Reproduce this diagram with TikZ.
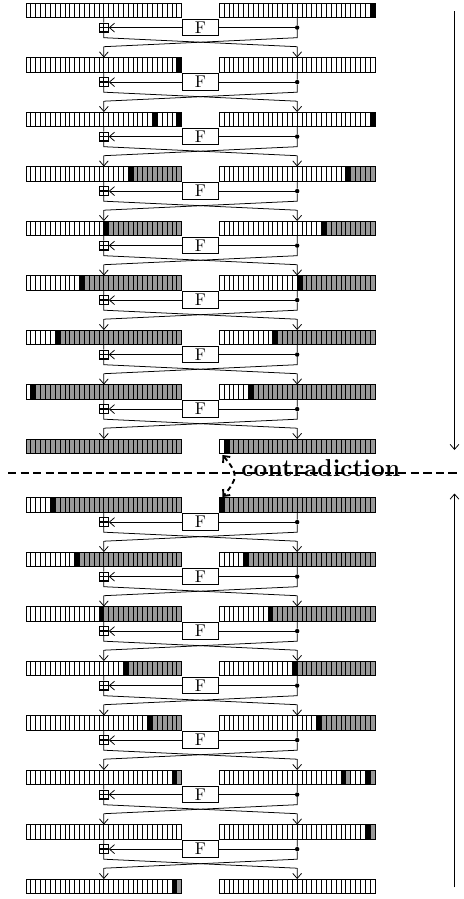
\documentclass[tikz,border=0pt]{standalone}
\usetikzlibrary{arrows.meta}
\definecolor{cg}{gray}{0.6}
\tikzset{
  >={Straight Barb[length=3pt, width=5.2pt]},
  reg/.style={draw, rectangle, line width=0.55pt, minimum width=91.59pt, minimum height=8.65pt, inner sep=0pt, outer sep=0pt},
  cellline/.style={line width=0.5pt},
  bp/.style={draw, rectangle, line width=0.75pt, minimum size=5.1pt, inner sep=0pt,
    path picture={\draw[line width=0.75pt] (path picture bounding box.north) -- (path picture bounding box.south)
      (path picture bounding box.west) -- (path picture bounding box.east);}},
  fbox/.style={draw, rectangle, line width=0.5pt, minimum width=21.2pt, minimum height=9.65pt, inner sep=0pt, font=\normalsize},
  dotn/.style={circle, fill=black, minimum size=2.6pt, inner sep=0pt},
  wire/.style={line width=0.45pt},
  contra/.style={font=\Large\bfseries, inner sep=0pt, anchor=mid},
  dline/.style={line width=1.1pt, dash pattern=on 4.9pt off 2.5pt},
  carrow/.style={{Straight Barb[length=3pt, width=5.5pt]}-{Straight Barb[length=3pt, width=5.5pt]}, line width=1.1pt, dash pattern=on 3pt off 2pt},
}
\newcommand\Reg[4]{%
  \foreach \aa/\bb/\cc in {#4}{\fill[\cc] ({#2+\aa*4.866},#3) rectangle ({#2+(\bb+1)*4.866},{#3+14.7});}
  \foreach \kk in {1,...,31}{\draw[cellline] ({#2+\kk*4.866},#3) -- ++(0,14.7);}
  \node[reg, anchor=north west] (#1) at (#2,#3) {};
}
\newcommand\Round[3]{%
  \node[bp] (P#1) at (103.85,{#3+24.6}) {};
  \node[fbox] (F#1) at (200.5,{#3+24.6}) {F};
  \node[dotn] (D#1) at (297.15,{#3+24.6}) {};
  \coordinate (aL#1) at (103.85,{#3+34.7});
  \coordinate (aR#1) at (297.15,{#3+34.7});
  \coordinate (bL#1) at (103.85,{#3+43.7});
  \coordinate (bR#1) at (297.15,{#3+43.7});
  \draw[wire] (L#1.south) -- (P#1.north);
  \draw[wire] (P#1.south) -- (aL#1) -- (bR#1);
  \draw[wire,->] (bR#1) -- (R#2.north);
  \draw[wire] (R#1.south) -- (D#1) -- (aR#1) -- (bL#1);
  \draw[wire,->] (bL#1) -- (L#2.north);
  \draw[wire] (D#1) -- (F#1.east);
  \draw[wire,->] (F#1.west) -- (P#1.east);
}
\begin{document}
\begin{tikzpicture}[x=0.5882pt, y=-0.5882pt]
\useasboundingbox (0,0) rectangle (464,899);
% top half
\Reg{L0}{26}{3}{0/31/white}
\Reg{R0}{219.3}{3}{31/31/black}
\Reg{L1}{26}{57.5}{31/31/black}
\Reg{R1}{219.3}{57.5}{0/31/white}
\Reg{L2}{26}{112}{26/26/black,31/31/black}
\Reg{R2}{219.3}{112}{31/31/black}
\Reg{L3}{26}{166.5}{21/21/black,22/31/cg}
\Reg{R3}{219.3}{166.5}{26/26/black,27/31/cg}
\Reg{L4}{26}{221}{16/16/black,17/31/cg}
\Reg{R4}{219.3}{221}{21/21/black,22/31/cg}
\Reg{L5}{26}{275.5}{11/11/black,12/31/cg}
\Reg{R5}{219.3}{275.5}{16/16/black,17/31/cg}
\Reg{L6}{26}{330}{6/6/black,7/31/cg}
\Reg{R6}{219.3}{330}{11/11/black,12/31/cg}
\Reg{L7}{26}{384.5}{1/1/black,2/31/cg}
\Reg{R7}{219.3}{384.5}{6/6/black,7/31/cg}
\Reg{L8}{26}{439}{0/31/cg}
\Reg{R8}{219.3}{439}{1/1/black,2/31/cg}
% bottom half
\Reg{L9}{26}{497.5}{5/5/black,6/31/cg}
\Reg{R9}{219.3}{497.5}{0/0/black,1/31/cg}
\Reg{L10}{26}{552}{10/10/black,11/31/cg}
\Reg{R10}{219.3}{552}{5/5/black,6/31/cg}
\Reg{L11}{26}{606.5}{15/15/black,16/31/cg}
\Reg{R11}{219.3}{606.5}{10/10/black,11/31/cg}
\Reg{L12}{26}{661}{20/20/black,21/31/cg}
\Reg{R12}{219.3}{661}{15/15/black,16/31/cg}
\Reg{L13}{26}{715.5}{25/25/black,26/31/cg}
\Reg{R13}{219.3}{715.5}{20/20/black,21/31/cg}
\Reg{L14}{26}{770}{30/30/black,31/31/cg}
\Reg{R14}{219.3}{770}{25/25/black,26/26/cg,30/30/black,31/31/cg}
\Reg{L15}{26}{824.5}{0/31/white}
\Reg{R15}{219.3}{824.5}{30/30/black,31/31/cg}
\Reg{L16}{26}{879}{30/30/black,31/31/cg}
\Reg{R16}{219.3}{879}{0/31/white}
% rounds
\Round{0}{1}{3}
\Round{1}{2}{57.5}
\Round{2}{3}{112}
\Round{3}{4}{166.5}
\Round{4}{5}{221}
\Round{5}{6}{275.5}
\Round{6}{7}{330}
\Round{7}{8}{384.5}
\Round{9}{10}{497.5}
\Round{10}{11}{552}
\Round{11}{12}{606.5}
\Round{12}{13}{661}
\Round{13}{14}{715.5}
\Round{14}{15}{770}
\Round{15}{16}{824.5}
% contradiction
\node[contra] (ctext) at (320.8,473.3) {contradiction};
\coordinate (dl) at (8,473.3);
\coordinate (dr) at (460,473.3);
\draw[dline] (dl) -- (dr);
\coordinate (ct) at (222.5,455);
\coordinate (cb) at (222.5,497);
\draw[carrow] (ct) to[out=-50,in=50,looseness=1.5] (cb);
% direction arrows
\coordinate (ta) at (454.5,11.3);
\coordinate (tb) at (454.5,450);
\coordinate (ba) at (454.5,887.3);
\coordinate (bb) at (454.5,493.5);
\draw[wire,->] (ta) -- (tb);
\draw[wire,->] (ba) -- (bb);
\end{tikzpicture}
\end{document}
